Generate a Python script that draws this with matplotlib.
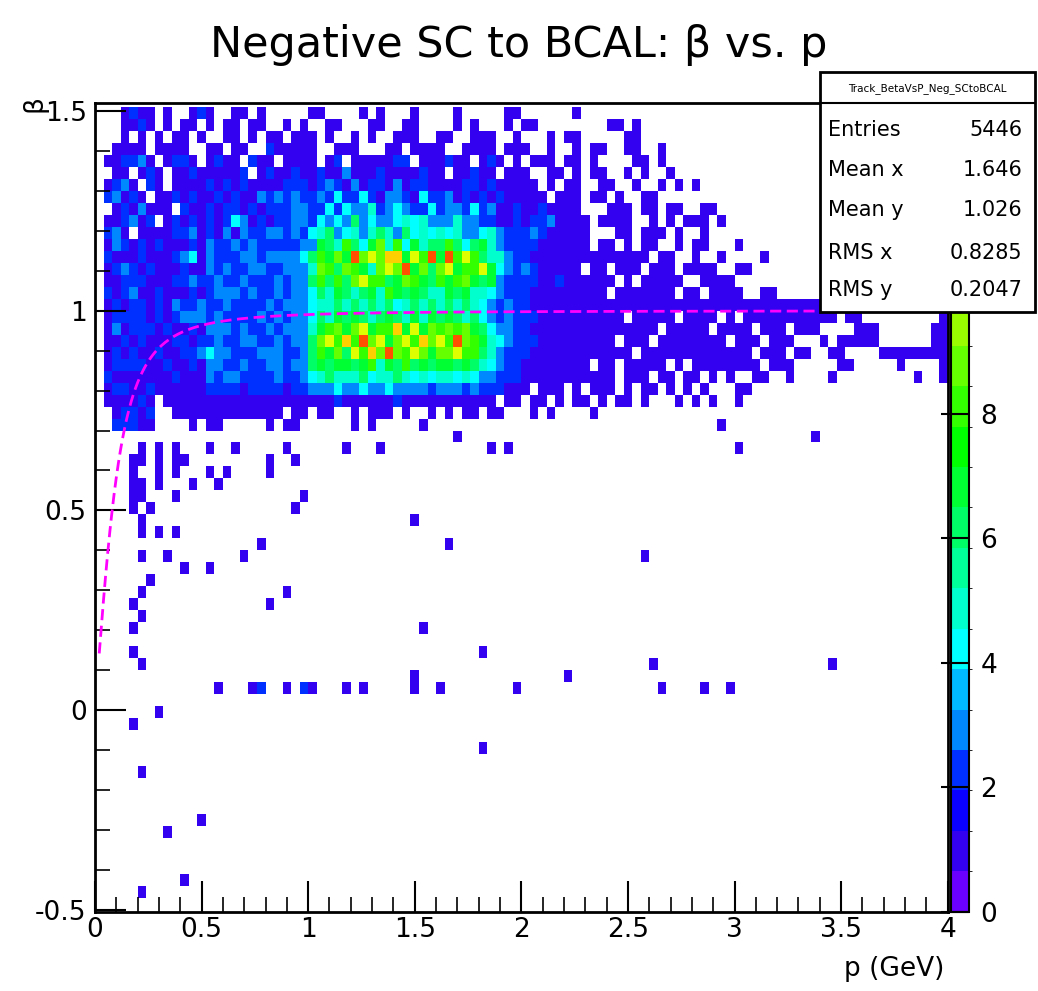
import numpy as np
import matplotlib.pyplot as plt
from matplotlib.colors import ListedColormap, BoundaryNorm
from matplotlib.ticker import MultipleLocator

# binning of the histogram
X_EDGES = np.arange(0, 4.0001, 0.04)
Y_EDGES = np.round(np.arange(-0.5, 1.5101, 0.03), 4)
DENSE_Y0 = 0.70   # lower edge of the dense block below

# dense block counts (hex digits), rows from beta 1.48-1.51 (top) down to 0.70-0.73,
# 100 p-bins of 0.04 GeV each, written in groups of ten
dense_rows = [
    "0001211010 0121001101 0000011000 0101000100 0010000011 0000001000 0000000000 0000000000 0000000000 0000000000",
    "0001121010 1101011011 0010100110 0011001100 0010100010 1100000000 1101000000 0000000000 0000000000 0000000000",
    "0001010101 1010011010 1101110100 1010011100 1100111001 0001011000 0011000000 0000000000 0000000000 0000000000",
    "0011110111 1001101100 2111110011 1000110111 1001111011 1001001011 0011001000 0000000000 0000000000 0000000000",
    "0112231012 2101211021 1011110120 1111122011 1211012101 0111011010 0001101000 0000000000 0000000000 0000000000",
    "0011012101 1211111201 2112112113 1112111121 1011211011 1001101011 0010100100 0000000000 0000000000 0000000000",
    "0123102101 1112121211 1122212321 3122131221 1112212111 1101011001 1001001010 1000000000 0000000000 0000000000",
    "0231210112 1211212113 2323223242 2421332142 2312121211 1110111011 0100110000 0000000000 0000000000 0000000000",
    "0012131110 2112122121 2223322424 3352343224 2332423112 1121111000 1110110110 0110000000 0000000000 0000000000",
    "0112312012 1212124312 1223324343 6343345453 3353322112 1223111101 1110010101 1101000000 0000000000 0000000000",
    "0231011112 2312131322 3323245634 5356536454 5453345322 2321111100 0110111010 0100000000 0000000000 0000000000",
    "0132121211 1213223232 2222337658 6479584756 6864675322 2211111101 1010110010 1100010000 0000000000 0000000000",
    "0211121112 3413222332 3333468797 c9a9bb7a8c 7c8a865532 2111111111 1111101100 1001000010 0000000000 0000000000",
    "0123212111 2113232233 2233359869 8759a9c796 9a788a7432 3211111011 0111011101 1110011000 0000000000 0000000000",
    "0112221112 2322322322 2323368686 9a88679876 8789767322 2211211111 1010111110 0111100000 0000000000 0000000000",
    "0212311211 1212333232 2323346576 5675876765 5767554322 2111111111 0111111101 1011110011 0000000000 0000000000",
    "0121221213 2232232222 3233345565 6565645656 5656543232 2111111111 1111111111 1111111111 1111111100 0000000000",
    "0122221212 3332322223 2323346576 7656765757 6765643232 2211111111 1101111101 1110101111 1111111011 0000000001",
    "0131222121 1213332322 3233357897 9a788b7a79 8989764332 2111111111 1111110111 1101111011 1011100001 1100000011",
    "0112121112 2122322332 2323369a8b 8c9a79a8b9 a8c9875432 2211111111 1011101111 1111011101 1100010111 1100000011",
    "0121211211 2234332223 3322368796 a8b9c98a97 99a8865322 2111111111 1110111111 1111111011 1011001100 0011111111",
    "0122221121 1213322322 3323367677 6785768676 7767654322 1111111101 1011111010 1111111101 1100000110 0000100001",
    "0211111112 1113233222 2322345655 5645565454 5545433222 1111111111 1011101101 1010100110 0100001000 0000001001",
    "0122112111 1112222122 2212233343 3433433332 3332322211 1011101011 1010110101 0100011000 0000000000 0000000000",
    "0111121011 1111111111 1111111121 1111121111 1111111011 0110101101 0110100010 1010010000 0000000000 0000000000",
    "0012212001 1111111111 1101101100 1011101001 0101101100 0101000010 0000000000 0000000000 0000000000 0000000000",
    "0022211000 0101100000 1011000000 1010000010 0000000000 0000000000 0000000000 0001000000 0000000000 0000000000",
]

# isolated entries below the dense block (p in GeV, beta)
sparse_p = [0.23, 0.30, 0.375, 0.52, 0.66, 0.905, 1.18, 1.32, 1.69, 1.85, 1.95, 3.02, 3.38,
            0.16, 0.23, 0.30, 0.375, 0.42, 0.80, 0.19, 0.30, 0.375, 0.52, 0.63, 0.82, 0.95,
            0.19, 0.23, 0.30, 0.445, 0.56, 0.19, 0.23, 0.385, 0.985, 0.19, 0.26, 0.94,
            0.23, 1.50, 0.23, 0.30, 0.375, 0.78, 1.66, 0.23, 0.34, 0.42, 0.52, 0.70, 2.58,
            0.26, 0.21, 0.905, 0.19, 0.82, 0.21, 0.19, 1.55, 0.19, 1.83, 0.23, 2.63, 3.46,
            1.50, 2.23, 0.78, 0.985, 1.18, 0.58, 0.73, 0.78, 0.905, 0.985, 1.02, 1.26, 1.50,
            1.62, 1.98, 2.66, 2.86, 2.99, 0.30, 0.19, 1.83, 0.225, 0.505, 0.34, 0.42, 0.225]
sparse_beta = [0.667, 0.667, 0.667, 0.667, 0.667, 0.667, 0.667, 0.667, 0.695, 0.667, 0.667, 0.667, 0.695,
               0.637, 0.637, 0.637, 0.637, 0.637, 0.637, 0.607, 0.607, 0.607, 0.607, 0.607, 0.607, 0.637,
               0.575, 0.575, 0.575, 0.575, 0.575, 0.545, 0.545, 0.545, 0.545, 0.517, 0.517, 0.517,
               0.487, 0.487, 0.457, 0.457, 0.457, 0.425, 0.425, 0.397, 0.397, 0.367, 0.367, 0.397, 0.397,
               0.337, 0.307, 0.307, 0.277, 0.277, 0.247, 0.217, 0.217, 0.157, 0.157, 0.125, 0.125, 0.125,
               0.097, 0.097, 0.067, 0.067, 0.067, 0.04, 0.04, 0.04, 0.04, 0.04, 0.04, 0.04, 0.04,
               0.04, 0.04, 0.04, 0.04, 0.04, 0.007, -0.023, -0.083, -0.143, -0.263, -0.32, -0.44, -0.47]

stats_labels = ["Entries", "Mean x", "Mean y", "RMS x", "RMS y"]
stats_values = ["5446", "1.646", "1.026", "0.8285", "0.2047"]
PION_MASS = 0.13957

# assemble histogram
counts = np.zeros((len(Y_EDGES) - 1, len(X_EDGES) - 1))
row0 = int(round((DENSE_Y0 - Y_EDGES[0]) / 0.03))
for k, row in enumerate(dense_rows):
    vals = [int(c, 16) for c in row.replace(" ", "").ljust(100, "0")[:100]]
    counts[row0 + len(dense_rows) - 1 - k] += vals
h, _, _ = np.histogram2d(sparse_beta, sparse_p, bins=[Y_EDGES, X_EDGES])
counts += h
masked = np.ma.masked_where(counts <= 0, counts)

# ROOT-like palette, 20 bands over 0..13
pal = ["#6a00ff", "#3300f0", "#0a00ff", "#0030ff", "#0088ff", "#00bbff", "#00ffff", "#00ffcc",
       "#00ff99", "#00ff66", "#00ff33", "#00ff00", "#33ff00", "#66ff00", "#99ff00", "#ddff00",
       "#ffd000", "#ff9900", "#ff5000", "#ff0000"]
zmax = 13.0
levels = np.linspace(0, zmax, len(pal) + 1)
cmap = ListedColormap(pal)
norm = BoundaryNorm(levels, cmap.N)

fig = plt.figure(figsize=(10.38, 9.91), dpi=100)
ax = fig.add_axes([0.0915, 0.080, 0.8215, 0.816])
mesh = ax.pcolormesh(X_EDGES, Y_EDGES, masked, cmap=cmap, norm=norm)

p = np.linspace(0.02, 4.0, 400)
beta = p / np.sqrt(p ** 2 + PION_MASS ** 2)
ax.plot(p, beta, color="#ff00ff", lw=2, ls=(0, (4, 2)))

ax.set_xlim(0, 4)
ax.set_ylim(-0.505, 1.52)
ax.xaxis.set_minor_locator(MultipleLocator(0.1))
ax.yaxis.set_minor_locator(MultipleLocator(0.1))
ax.set_xticks(np.arange(0, 4.01, 0.5))
ax.set_xticklabels(["0", "0.5", "1", "1.5", "2", "2.5", "3", "3.5", "4"])
ax.set_yticks([-0.5, 0, 0.5, 1, 1.5])
ax.set_yticklabels(["-0.5", "0", "0.5", "1", "1.5"])
ax.tick_params(which="both", direction="in", top=False, right=False, labelsize=19)
ax.tick_params(which="major", length=22, width=1.5)
ax.tick_params(which="minor", length=11, width=1.2)
ax.tick_params(axis="y", pad=6)
for s in ax.spines.values():
    s.set_linewidth(2)

fig.text(0.5, 0.955, "Negative SC to BCAL: β vs. p", ha="center", va="center", fontsize=31)
fig.text(0.91, 0.022, "p (GeV)", ha="right", va="center", fontsize=19)
fig.text(0.033, 0.895, "β", ha="center", va="center", fontsize=19, rotation=90)

cax = fig.add_axes([0.916, 0.080, 0.018, 0.816])
cb = fig.colorbar(mesh, cax=cax, ticks=[0, 2, 4, 6, 8, 10, 12])
cb.outline.set_linewidth(1.5)
cax.tick_params(direction="in", length=20, width=1.5, labelsize=19, pad=8)
cax.yaxis.set_ticks_position("right")

# stats box
bx0, bx1 = 0.790, 0.997
by0, by1 = 0.685, 0.927
fig.patches.append(plt.Rectangle((bx0, by0), bx1 - bx0, by1 - by0, transform=fig.transFigure,
                                 facecolor="white", edgecolor="black", lw=2, zorder=5))
fig.lines.append(plt.Line2D([bx0, bx1], [0.896, 0.896], transform=fig.transFigure, color="black",
                            lw=1.5, zorder=6))
fig.text((bx0 + bx1) / 2, 0.911, "Track_BetaVsP_Neg_SCtoBCAL", ha="center", va="center",
         fontsize=7.5, zorder=7)
for i, (lab, val) in enumerate(zip(stats_labels, stats_values)):
    yy = [0.869, 0.828, 0.788, 0.745, 0.707][i]
    fig.text(bx0 + 0.008, yy, lab, ha="left", va="center", fontsize=15, zorder=7)
    fig.text(bx1 - 0.012, yy, val, ha="right", va="center", fontsize=15, zorder=7)

fig.savefig("out.png", dpi=100)
